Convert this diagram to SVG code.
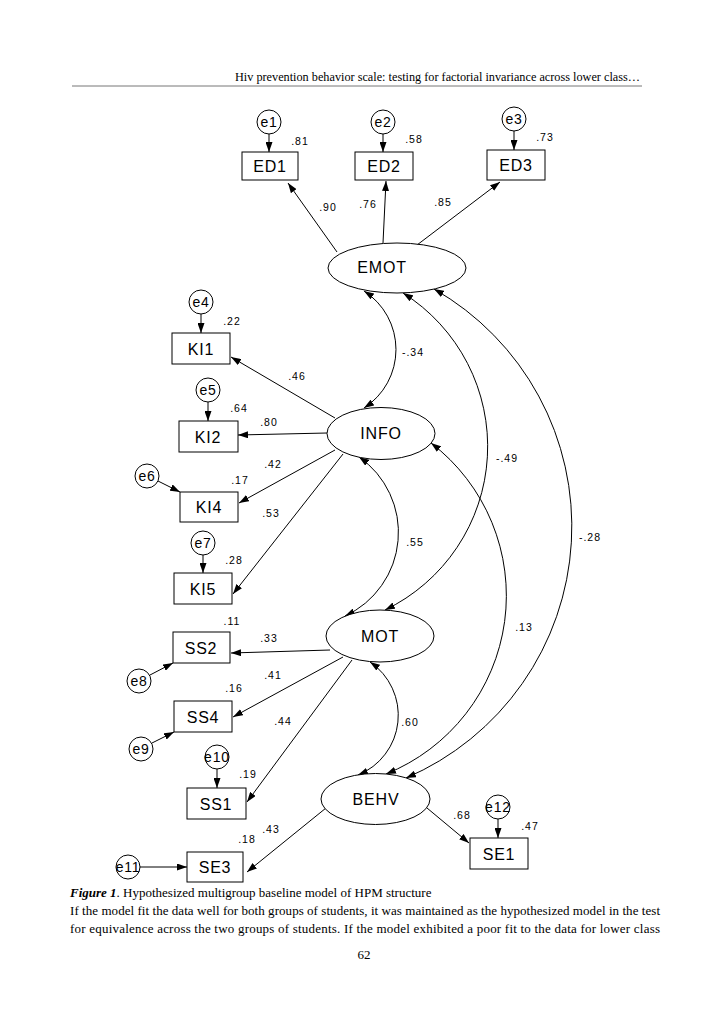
<svg xmlns="http://www.w3.org/2000/svg" width="728" height="1030" viewBox="0 0 728 1030">
<defs>
<marker id="ah" viewBox="0 0 10 7" refX="10" refY="3.5" markerWidth="10" markerHeight="7" markerUnits="userSpaceOnUse" orient="auto-start-reverse">
<path d="M0,0 L10,3.5 L0,7 z" fill="#000"/>
</marker>
</defs>
<style>
.box{fill:#fff;stroke:#000;stroke-width:1}
.lat{fill:#fff;stroke:#000;stroke-width:1}
.err{fill:#fff;stroke:#000;stroke-width:1}
.ln{fill:none;stroke:#000;stroke-width:1;marker-end:url(#ah)}
.cov{fill:none;stroke:#000;stroke-width:1;marker-start:url(#ah);marker-end:url(#ah)}
.nl{font-family:"Liberation Sans",Arial,sans-serif;font-size:16px;letter-spacing:0.8px;text-anchor:middle;fill:#000}
.el{font-family:"Liberation Sans",Arial,sans-serif;font-size:14px;letter-spacing:0.8px;text-anchor:middle;fill:#000}
.v{font-family:"Liberation Sans",Arial,sans-serif;font-size:10.5px;letter-spacing:1px;text-anchor:middle;fill:#000}
.pt{font-family:"Liberation Serif","Times New Roman",serif;font-size:13px;fill:#000}
</style>
<rect width="728" height="1030" fill="#fff"/>

<g id="header">
<text class="pt" x="235" y="81" textLength="405" lengthAdjust="spacingAndGlyphs">Hiv prevention behavior scale: testing for factorial invariance across lower class…</text>
<line x1="72" y1="86" x2="642" y2="86" stroke="#777" stroke-width="1"/>
</g>

<g id="connectors">
<line class="ln" x1="337" y1="252" x2="288" y2="183"/>
<line class="ln" x1="383" y1="243" x2="386" y2="181"/>
<line class="ln" x1="417" y1="245" x2="500" y2="182"/>
<line class="ln" x1="335" y1="418" x2="231" y2="357"/>
<line class="ln" x1="327" y1="433" x2="238" y2="435"/>
<line class="ln" x1="335" y1="450" x2="239" y2="503"/>
<line class="ln" x1="343" y1="454" x2="233" y2="594"/>
<line class="ln" x1="330" y1="650" x2="231" y2="653"/>
<line class="ln" x1="343" y1="657" x2="233" y2="717"/>
<line class="ln" x1="352" y1="660" x2="247" y2="802"/>
<line class="ln" x1="326" y1="808" x2="247" y2="872"/>
<line class="ln" x1="427" y1="808" x2="469" y2="843"/>
<line class="ln" x1="269" y1="134" x2="269" y2="152"/>
<line class="ln" x1="383" y1="134" x2="383" y2="152"/>
<line class="ln" x1="514" y1="131" x2="514" y2="150"/>
<line class="ln" x1="201" y1="314" x2="201" y2="333"/>
<line class="ln" x1="208" y1="402" x2="208" y2="421"/>
<line class="ln" x1="158" y1="481" x2="180" y2="492"/>
<line class="ln" x1="203" y1="555" x2="203" y2="573"/>
<line class="ln" x1="150" y1="675" x2="173" y2="663"/>
<line class="ln" x1="152" y1="743" x2="174" y2="732"/>
<line class="ln" x1="217" y1="769" x2="217" y2="788"/>
<line class="ln" x1="140" y1="867" x2="187" y2="867"/>
<line class="ln" x1="498" y1="819" x2="498" y2="838"/>
<path class="cov" d="M364,291 A69.5,69.5 0 0 1 364,408"/>
<path class="cov" d="M403,293 A181.5,181.5 0 0 1 385,610"/>
<path class="cov" d="M434,289 A273.6,273.6 0 0 1 406,778"/>
<path class="cov" d="M431,443 A192.3,192.3 0 0 1 386,774"/>
<path class="cov" d="M359,457 A92,92 0 0 1 345,616"/>
<path class="cov" d="M370,662 A64.4,64.4 0 0 1 358,775"/>
</g>

<g id="EMOT"><ellipse class="lat" cx="397" cy="268" rx="69" ry="25"/><text class="nl" x="382" y="273">EMOT</text></g>
<g id="INFO"><ellipse class="lat" cx="381" cy="433.5" rx="54" ry="26"/><text class="nl" x="381" y="439">INFO</text></g>
<g id="MOT"><ellipse class="lat" cx="380" cy="636" rx="54" ry="26"/><text class="nl" x="380" y="642">MOT</text></g>
<g id="BEHV"><ellipse class="lat" cx="375.5" cy="799" rx="54.5" ry="25.5"/><text class="nl" x="376" y="805">BEHV</text></g>

<g id="ED1"><rect class="box" x="242" y="152" width="56" height="28"/><text class="nl" x="270" y="172">ED1</text></g>
<g id="ED2"><rect class="box" x="355" y="152" width="58" height="28"/><text class="nl" x="384" y="172">ED2</text></g>
<g id="ED3"><rect class="box" x="487" y="150" width="58" height="30"/><text class="nl" x="516" y="171">ED3</text></g>
<g id="KI1"><rect class="box" x="172" y="333" width="58" height="31"/><text class="nl" x="201" y="355">KI1</text></g>
<g id="KI2"><rect class="box" x="179" y="421" width="59" height="31"/><text class="nl" x="208" y="443">KI2</text></g>
<g id="KI4"><rect class="box" x="180" y="492" width="58" height="30"/><text class="nl" x="209" y="513">KI4</text></g>
<g id="KI5"><rect class="box" x="174" y="573" width="58" height="31"/><text class="nl" x="203" y="595">KI5</text></g>
<g id="SS2"><rect class="box" x="173" y="632" width="57" height="31"/><text class="nl" x="201" y="654">SS2</text></g>
<g id="SS4"><rect class="box" x="174" y="701" width="58" height="31"/><text class="nl" x="203" y="723">SS4</text></g>
<g id="SS1"><rect class="box" x="187" y="788" width="59" height="31"/><text class="nl" x="216" y="810">SS1</text></g>
<g id="SE3"><rect class="box" x="187" y="852" width="56" height="30"/><text class="nl" x="215" y="873">SE3</text></g>
<g id="SE1"><rect class="box" x="470" y="838" width="58" height="31"/><text class="nl" x="499" y="860">SE1</text></g>

<g id="e1"><circle class="err" cx="269" cy="122" r="12"/><text class="el" x="269" y="127">e1</text></g>
<g id="e2"><circle class="err" cx="383" cy="122" r="12"/><text class="el" x="383" y="127">e2</text></g>
<g id="e3"><circle class="err" cx="514" cy="119" r="12"/><text class="el" x="514" y="124">e3</text></g>
<g id="e4"><circle class="err" cx="201" cy="302" r="12"/><text class="el" x="201" y="307">e4</text></g>
<g id="e5"><circle class="err" cx="208" cy="390" r="12"/><text class="el" x="208" y="395">e5</text></g>
<g id="e6"><circle class="err" cx="147" cy="476" r="12"/><text class="el" x="147" y="481">e6</text></g>
<g id="e7"><circle class="err" cx="203" cy="543" r="12"/><text class="el" x="203" y="548">e7</text></g>
<g id="e8"><circle class="err" cx="139" cy="681" r="12"/><text class="el" x="139" y="686">e8</text></g>
<g id="e9"><circle class="err" cx="141" cy="749" r="12"/><text class="el" x="141" y="754">e9</text></g>
<g id="e10"><circle class="err" cx="217" cy="757" r="12"/><text class="el" x="217" y="762">e10</text></g>
<g id="e11"><circle class="err" cx="128" cy="867" r="12"/><text class="el" x="128" y="872">e11</text></g>
<g id="e12"><circle class="err" cx="498" cy="807" r="12"/><text class="el" x="498" y="812">e12</text></g>

<g id="values">
<text class="v" x="300" y="145">.81</text>
<text class="v" x="414" y="143">.58</text>
<text class="v" x="545" y="141">.73</text>
<text class="v" x="328" y="211">.90</text>
<text class="v" x="368" y="208">.76</text>
<text class="v" x="443" y="206">.85</text>
<text class="v" x="232" y="325">.22</text>
<text class="v" x="297" y="380">.46</text>
<text class="v" x="239" y="412">.64</text>
<text class="v" x="269" y="426">.80</text>
<text class="v" x="413" y="356">-.34</text>
<text class="v" x="273" y="468">.42</text>
<text class="v" x="240" y="484">.17</text>
<text class="v" x="271" y="517">.53</text>
<text class="v" x="507" y="462">-.49</text>
<text class="v" x="415" y="546">.55</text>
<text class="v" x="590" y="541">-.28</text>
<text class="v" x="234" y="564">.28</text>
<text class="v" x="232" y="625">.11</text>
<text class="v" x="269" y="642">.33</text>
<text class="v" x="524" y="631">.13</text>
<text class="v" x="273" y="679">.41</text>
<text class="v" x="234" y="692">.16</text>
<text class="v" x="283" y="725">.44</text>
<text class="v" x="410" y="726">.60</text>
<text class="v" x="248" y="778">.19</text>
<text class="v" x="462" y="819">.68</text>
<text class="v" x="530" y="830">.47</text>
<text class="v" x="271" y="833">.43</text>
<text class="v" x="247" y="843">.18</text>
</g>

<g id="caption">
<text class="pt" x="70" y="897"><tspan font-weight="bold" font-style="italic">Figure 1</tspan>. Hypothesized multigroup baseline model of HPM structure</text>
<text class="pt" x="70" y="915" textLength="590" lengthAdjust="spacing">If the model fit the data well for both groups of students, it was maintained as the hypothesized model in the test</text>
<text class="pt" x="70" y="933" textLength="590" lengthAdjust="spacing">for equivalence across the two groups of students. If the model exhibited a poor fit to the data for lower class</text>
<text class="pt" x="364" y="959" text-anchor="middle">62</text>
</g>
</svg>
